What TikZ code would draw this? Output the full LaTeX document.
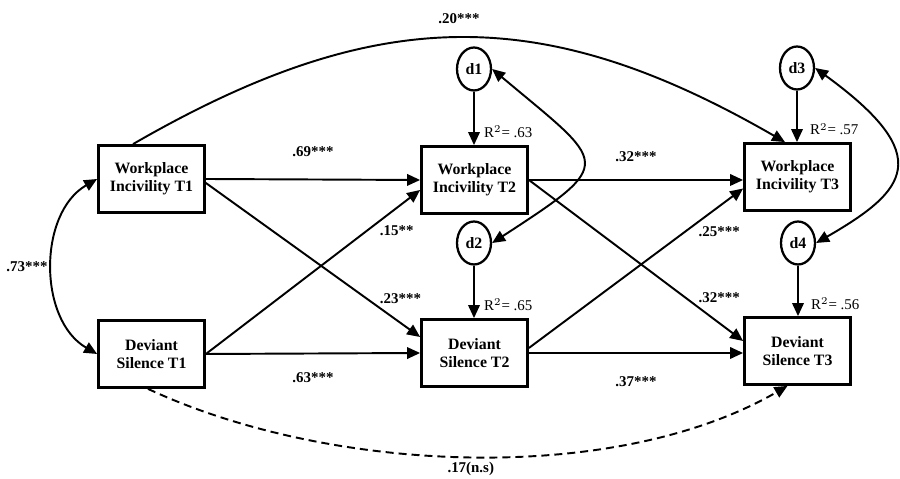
\documentclass[tikz,border=0pt]{standalone}
\usepackage{fontspec}
\setmainfont{Liberation Serif}
\usetikzlibrary{arrows.meta,shapes.geometric}
\begin{document}
\begin{tikzpicture}[x=0.02cm,y=0.02cm]
 % les styles
  \tikzstyle{boite}=[rectangle,draw,line width=1.6pt,minimum width=2.12cm,minimum height=1.34cm,align=center,font=\fontsize{9}{10.5}\selectfont\bfseries]
  \tikzstyle{erreur}=[ellipse,draw,line width=1.3pt,minimum width=0.68cm,minimum height=0.86cm,inner sep=0pt,font=\fontsize{9}{10}\selectfont\bfseries]
  \tikzstyle{effet}=[->,>={Triangle[length=2.6mm,width=2.3mm]},line width=1.1pt]
  \tikzstyle{covar}=[<->,>={Triangle[length=2.6mm,width=2.3mm]},line width=1.1pt]
  \tikzstyle{coef}=[font=\fontsize{8.5}{10}\selectfont\bfseries,inner sep=1pt]
  \tikzstyle{rdeux}=[font=\fontsize{8.5}{10}\selectfont,inner sep=1pt]
  \useasboundingbox (0,0) rectangle (900,479);
 % les noeuds
  \node[boite] (WI1) at (151.5,300) {Workplace\\Incivility T1};
  \node[boite] (DS1) at (151.5,125) {Deviant\\Silence T1};
  \node[boite] (WI2) at (474.5,299) {Workplace\\Incivility T2};
  \node[boite] (DS2) at (474.5,126) {Deviant\\Silence T2};
  \node[boite] (WI3) at (797.5,302) {Workplace\\Incivility T3};
  \node[boite] (DS3) at (797.5,128) {Deviant\\Silence T3};
  \node[erreur] (d1) at (474,410) {d1};
  \node[erreur] (d2) at (474,236) {d2};
  \node[erreur] (d3) at (797,411) {d3};
  \node[erreur] (d4) at (798,236) {d4};
 % les residus
  \draw[effet] (d1.south)--(d1 |- WI2.north) node[rdeux,pos=0.75,right=1.5mm]{R$^2$= .63};
  \draw[effet] (d2.south)--(d2 |- DS2.north) node[rdeux,pos=0.75,right=1.5mm]{R$^2$= .65};
  \draw[effet] (d3.south)--(d3 |- WI3.north) node[rdeux,pos=0.75,right=2.1mm]{R$^2$= .57};
  \draw[effet] (d4.south)--(d4 |- DS3.north) node[rdeux,pos=0.75,right=2.1mm]{R$^2$= .56};
 % les effets
  \draw[effet] (WI1.east)--(WI2.west) node[coef,midway,above=4.1mm]{.69***};
  \draw[effet] (DS1.east)--(DS2.west) node[coef,midway,below=3.3mm]{.63***};
  \draw[effet] ([yshift=-0.08cm]WI1.east)--([yshift=0.32cm]DS2.west) node[coef,pos=0.8,anchor=south west]{.23***};
  \draw[effet] (DS1.east)--([yshift=-0.2cm]WI2.west) node[coef,pos=0.8,anchor=north west]{.15**};
  \draw[effet] (WI2.east)--(WI2.east -| WI3.west) node[coef,midway,above=3.1mm]{.32***};
  \draw[effet] (DS2.east)--(DS2.east -| DS3.west) node[coef,midway,below=4.1mm]{.37***};
  \draw[effet] (WI2.east)--([yshift=0.2cm]DS3.west) node[coef,pos=0.78,anchor=south west]{.32***};
  \draw[effet] ([yshift=0.1cm]DS2.east)--([yshift=-0.23cm]WI3.west) node[coef,pos=0.78,anchor=north west]{.25***};
  \draw[effet] ([xshift=-0.37cm]WI1.north) to[out=30,in=150,looseness=1.1] node[coef,midway,above=2.2mm]{.20***} ([xshift=-0.25cm]WI3.north);
  \draw[effet,dash pattern=on 1.6mm off 1mm] ([xshift=-0.07cm]DS1.south) to[out=-25,in=-150,looseness=0.8] node[coef,midway,below=0.6mm]{.17(n.s)} ([xshift=-0.2cm]DS3.south);
 % les covariances
  \draw[covar] (WI1.west) to[bend right=60] node[coef,midway,left=0.5mm]{.73***} (DS1.west);
  \draw[covar] (d1.east) .. controls +(-40:150) and +(33:150) .. (d2.east);
  \draw[covar] (d3.east) .. controls +(-36:150) and +(30:105) .. (d4.east);
\end{tikzpicture}
\end{document}
